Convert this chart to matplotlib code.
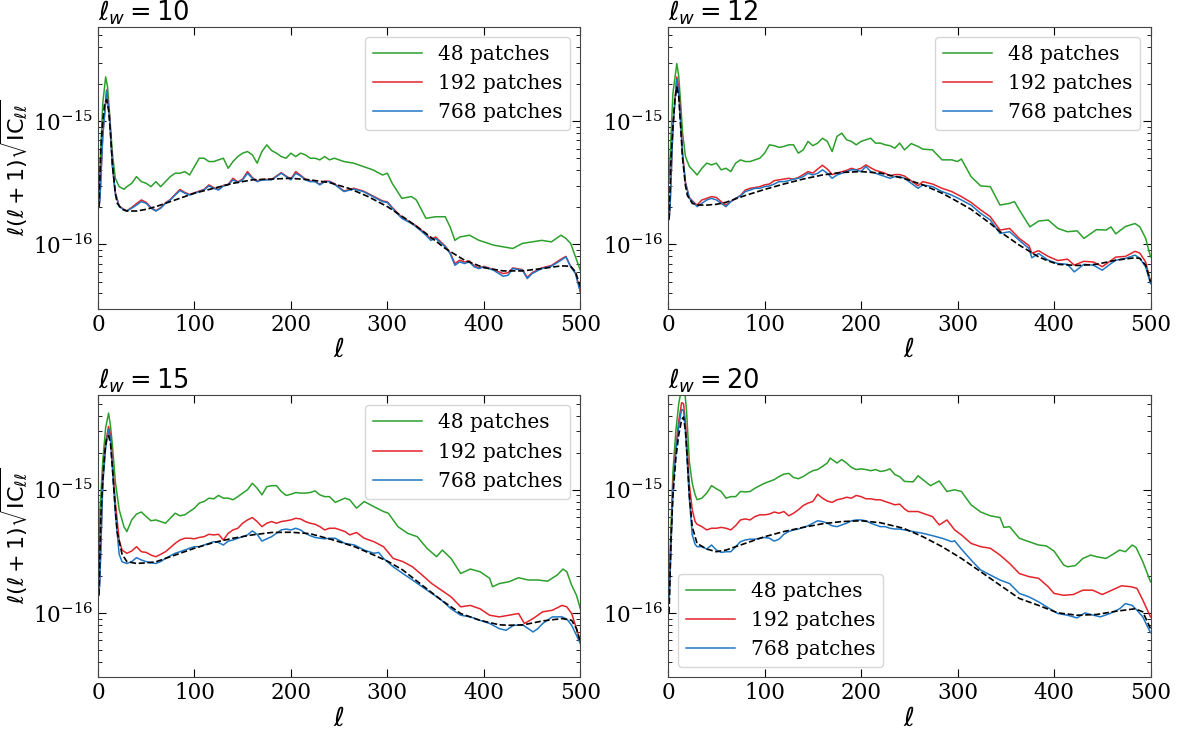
import matplotlib
matplotlib.use("Agg")
import matplotlib.pyplot as plt
from matplotlib.ticker import FixedLocator
import numpy as np

# values are in units of 1e-16
UNIT = 1e-16

# ---- l_w = 10 ----
green_10 = [(1, 2.3), (2, 4.0), (5, 14), (8, 23), (10, 19), (12, 11.7), (15, 5.5), (18, 3.45), (22, 2.95), (27, 2.81),
            (30, 2.95), (35, 3.14), (40, 3.56), (45, 3.24), (50, 3.14), (55, 2.95), (60, 3.24), (65, 2.95), (70, 3.24),
            (75, 3.56), (80, 3.79), (85, 3.79), (90, 3.91), (95, 3.67), (100, 4.30), (105, 5.02), (110, 5.02), (115, 4.72),
            (120, 4.72), (125, 4.87), (130, 5.02), (135, 4.16), (140, 4.72), (145, 5.18), (150, 5.52), (155, 5.69),
            (160, 5.35), (165, 4.58), (170, 5.69), (175, 6.45), (180, 5.8), (185, 5.52), (190, 5.18), (195, 5.02),
            (200, 5.52), (205, 5.18), (210, 5.52), (215, 5.35), (220, 5.02), (225, 5.02), (230, 4.87), (235, 5.18),
            (240, 4.87), (245, 5.02), (255, 4.72), (265, 4.58), (275, 4.30), (285, 4.04), (295, 3.67), (300, 3.79),
            (305, 3.14), (315, 2.37), (325, 2.45), (330, 2.30), (340, 1.63), (350, 1.68), (360, 1.68), (365, 1.39),
            (370, 1.08), (375, 1.15), (385, 1.19), (395, 1.08), (400, 1.05), (410, 0.988), (420, 0.957), (430, 0.928),
            (440, 1.02), (450, 1.05), (460, 1.08), (470, 1.05), (480, 1.19), (485, 1.12), (490, 1.02), (495, 0.793),
            (500, 0.618)]
red_10 = [(1, 2.0), (2, 2.3), (5, 7.8), (9, 18), (12, 11.3), (15, 4.4), (18, 2.65), (22, 2.05), (27, 1.93),
          (30, 1.88), (35, 2.0), (40, 2.15), (45, 2.30), (50, 2.2), (55, 2.0), (60, 1.88), (65, 1.99), (70, 2.18),
          (75, 2.32), (80, 2.55), (85, 2.80), (90, 2.65), (95, 2.55), (100, 2.63), (105, 2.72), (110, 2.80), (115, 3.05),
          (120, 2.9), (125, 2.8), (130, 3.02), (135, 3.08), (140, 3.45), (145, 3.22), (150, 3.4), (155, 3.91),
          (160, 3.5), (165, 3.28), (170, 3.38), (175, 3.38), (180, 3.38), (185, 3.6), (190, 3.83), (195, 3.6),
          (200, 3.4), (205, 3.91), (210, 3.65), (215, 3.4), (220, 3.28), (225, 3.26), (230, 3.08), (235, 3.28),
          (240, 3.26), (245, 3.12), (255, 2.72), (265, 2.86), (275, 2.72), (285, 2.48), (295, 2.26), (300, 2.22),
          (305, 2.0), (315, 1.66), (325, 1.5), (330, 1.42), (340, 1.22), (345, 1.1), (350, 1.15), (360, 0.97),
          (365, 0.86), (370, 0.70), (375, 0.745), (380, 0.72), (385, 0.735), (390, 0.67), (395, 0.645), (400, 0.665),
          (410, 0.625), (420, 0.58), (425, 0.59), (430, 0.645), (440, 0.625), (445, 0.54), (450, 0.59), (460, 0.645),
          (470, 0.675), (480, 0.76), (485, 0.80), (490, 0.665), (495, 0.585), (500, 0.415)]
blue_10 = [(1, 2.0), (2, 2.3), (5, 7.55), (9, 17.6), (12, 11.0), (15, 4.30), (18, 2.61), (22, 2.03), (27, 1.91),
           (30, 1.87), (35, 1.97), (40, 2.09), (45, 2.23), (50, 2.16), (55, 1.97), (60, 1.87), (65, 1.97), (70, 2.16),
           (75, 2.30), (80, 2.52), (85, 2.74), (90, 2.61), (95, 2.52), (100, 2.61), (105, 2.69), (110, 2.77), (115, 2.99),
           (120, 2.86), (125, 2.77), (130, 2.99), (135, 3.05), (140, 3.35), (145, 3.18), (150, 3.35), (155, 3.79),
           (160, 3.45), (165, 3.24), (170, 3.35), (175, 3.35), (180, 3.35), (185, 3.56), (190, 3.79), (195, 3.56),
           (200, 3.35), (205, 3.79), (210, 3.6), (215, 3.35), (220, 3.24), (225, 3.24), (230, 3.05), (235, 3.24),
           (240, 3.24), (245, 3.09), (255, 2.69), (265, 2.82), (275, 2.69), (285, 2.45), (295, 2.23), (300, 2.19),
           (305, 1.97), (315, 1.63), (325, 1.48), (330, 1.39), (340, 1.19), (345, 1.08), (350, 1.12), (360, 0.957),
           (365, 0.845), (370, 0.678), (375, 0.722), (380, 0.700), (385, 0.722), (390, 0.658), (395, 0.637),
           (400, 0.658), (410, 0.618), (420, 0.552), (425, 0.562), (430, 0.637), (440, 0.618), (445, 0.528),
           (450, 0.580), (460, 0.637), (470, 0.666), (480, 0.745), (485, 0.793), (490, 0.658), (495, 0.580),
           (500, 0.411)]
theory_10 = [(1, 2.0), (3, 6.0), (5, 10), (7, 14), (9, 15), (11, 12.4), (13, 8.0), (15, 4.5), (18, 2.6), (20, 2.16),
             (25, 1.93), (30, 1.87), (40, 1.87), (50, 1.93), (60, 2.03), (70, 2.16), (80, 2.30), (100, 2.61),
             (120, 2.86), (140, 3.14), (160, 3.35), (180, 3.40), (200, 3.45), (220, 3.35), (240, 3.18), (260, 2.86),
             (280, 2.45), (300, 2.03), (320, 1.60), (340, 1.23), (360, 0.928), (380, 0.745), (400, 0.648),
             (420, 0.610), (440, 0.610), (460, 0.637), (480, 0.67), (490, 0.666), (495, 0.60), (500, 0.452)]

# ---- l_w = 12 ----
green_12 = [(1, 3.5), (2, 4.9), (5, 17), (9, 29.5), (11, 23.3), (13, 14.1), (15, 8.0), (18, 5.18), (22, 4.3), (27, 3.91),
            (30, 3.67), (35, 4.16), (40, 4.58), (45, 4.43), (50, 4.58), (55, 4.04), (60, 4.16), (65, 3.91), (70, 4.58),
            (75, 4.87), (80, 4.72), (85, 4.72), (90, 4.87), (95, 5.02), (100, 5.52), (105, 6.45), (110, 6.35),
            (115, 6.15), (120, 6.26), (125, 6.45), (130, 6.45), (135, 5.52), (140, 5.87), (145, 6.88), (150, 6.35),
            (155, 6.66), (160, 7.3), (165, 6.88), (170, 5.69), (175, 7.55), (180, 8.03), (185, 7.09), (190, 6.88),
            (195, 6.45), (200, 6.88), (205, 7.09), (210, 7.3), (215, 6.66), (220, 6.66), (225, 6.45), (230, 6.35),
            (235, 6.06), (240, 6.66), (245, 5.87), (252, 6.6), (259, 6.26), (264, 5.95), (274, 5.87), (284, 4.87),
            (294, 4.87), (300, 4.72), (304, 4.95), (314, 3.56), (324, 2.99), (334, 2.95), (344, 2.09), (354, 2.16),
            (359, 2.23), (364, 1.91), (375, 1.39), (384, 1.55), (394, 1.58), (404, 1.35), (414, 1.27), (424, 1.29),
            (431, 1.12), (444, 1.32), (454, 1.31), (459, 1.39), (464, 1.22), (474, 1.40), (484, 1.48), (489, 1.39),
            (495, 1.12), (500, 0.793)]
red_12 = [(1, 1.6), (2, 2.03), (5, 9.1), (9, 23), (11, 19), (13, 10.5), (15, 5.5), (18, 3.2), (22, 2.4), (27, 2.19),
          (30, 2.09), (35, 2.30), (40, 2.37), (45, 2.45), (50, 2.41), (55, 2.23), (60, 2.09), (65, 2.23), (70, 2.37),
          (75, 2.5), (80, 2.77), (85, 2.86), (90, 2.9), (95, 2.95), (100, 3.05), (105, 3.1), (110, 3.3), (115, 3.35),
          (120, 3.4), (125, 3.45), (130, 3.39), (135, 3.5), (140, 3.7), (145, 3.91), (150, 3.8), (155, 4.1), (160, 4.4),
          (165, 4.1), (170, 3.7), (175, 3.8), (180, 3.9), (185, 4.0), (190, 4.16), (195, 4.04), (200, 4.16),
          (205, 4.43), (210, 4.2), (215, 4.0), (220, 3.9), (225, 3.79), (230, 3.6), (235, 3.7), (240, 3.7), (245, 3.6),
          (259, 3.0), (264, 3.24), (274, 3.1), (284, 2.86), (294, 2.69), (304, 2.45), (314, 2.2), (324, 1.91),
          (334, 1.68), (344, 1.31), (354, 1.35), (364, 1.12), (374, 0.98), (377, 0.85), (384, 0.89), (394, 0.80),
          (404, 0.74), (414, 0.76), (421, 0.68), (431, 0.73), (441, 0.72), (450, 0.66), (459, 0.74), (464, 0.79),
          (474, 0.80), (484, 0.88), (489, 0.85), (495, 0.72), (500, 0.50)]
blue_12 = [(1, 1.6), (2, 2.03), (5, 9.1), (9, 21.9), (11, 17), (13, 9.69), (15, 5.18), (18, 3.14), (22, 2.37), (27, 2.16),
           (30, 2.03), (35, 2.16), (40, 2.30), (45, 2.37), (50, 2.30), (55, 2.16), (60, 2.03), (65, 2.23), (70, 2.37),
           (75, 2.48), (80, 2.69), (85, 2.77), (90, 2.86), (95, 2.86), (100, 2.95), (105, 2.99), (110, 3.1),
           (115, 3.24), (120, 3.24), (125, 3.30), (130, 3.39), (135, 3.45), (140, 3.56), (145, 3.79), (150, 3.67),
           (155, 3.79), (160, 4.04), (165, 3.79), (170, 3.45), (175, 3.67), (180, 3.79), (185, 3.91), (190, 4.04),
           (195, 4.04), (200, 3.91), (205, 4.30), (210, 3.91), (215, 3.79), (220, 3.67), (225, 3.56), (230, 3.45),
           (235, 3.56), (240, 3.56), (245, 3.45), (259, 2.86), (264, 3.05), (274, 2.95), (284, 2.69), (294, 2.52),
           (304, 2.30), (314, 2.09), (324, 1.79), (334, 1.58), (344, 1.23), (354, 1.27), (364, 1.08), (374, 0.928),
           (377, 0.78), (384, 0.845), (394, 0.745), (404, 0.70), (414, 0.69), (421, 0.599), (431, 0.69), (441, 0.678),
           (450, 0.618), (459, 0.70), (464, 0.745), (474, 0.77), (484, 0.82), (489, 0.77), (495, 0.658), (500, 0.481)]
theory_12 = [(1, 1.6), (3, 5), (5, 9), (7, 15), (9, 19), (11, 16), (13, 9), (15, 5.0), (18, 3.0), (20, 2.5), (25, 2.16),
             (30, 2.09), (40, 2.09), (50, 2.12), (60, 2.2), (70, 2.35), (80, 2.5), (100, 2.8), (120, 3.1), (140, 3.4),
             (160, 3.67), (180, 3.85), (200, 3.91), (220, 3.8), (244, 3.45), (264, 3.05), (284, 2.61), (300, 2.23),
             (314, 1.93), (334, 1.48), (344, 1.27), (364, 0.988), (384, 0.793), (394, 0.735), (404, 0.69),
             (424, 0.675), (444, 0.69), (464, 0.745), (484, 0.78), (489, 0.77), (495, 0.678), (500, 0.497)]

# ---- l_w = 15 ----
green_15 = [(1, 1.4), (2, 6.6), (5, 17), (8, 32), (11, 42), (13, 33), (15, 23), (18, 11.7), (22, 6.9), (27, 5.0),
            (30, 4.58), (35, 5.69), (40, 6.35), (45, 6.6), (50, 6.06), (55, 5.6), (60, 5.69), (65, 5.52), (70, 5.35),
            (75, 5.87), (80, 6.45), (85, 6.15), (90, 6.26), (95, 6.66), (100, 7.09), (105, 7.8), (110, 8.03),
            (115, 8.55), (120, 8.45), (125, 9.0), (130, 8.55), (135, 8.55), (140, 8.3), (145, 8.8), (150, 9.4),
            (155, 10.0), (160, 11.3), (165, 10.3), (170, 9.1), (175, 10.6), (180, 10.8), (185, 10.8), (190, 9.69),
            (195, 9.0), (200, 9.2), (205, 9.5), (210, 9.4), (215, 9.4), (220, 9.5), (225, 9.8), (230, 9.1), (235, 8.8),
            (240, 8.8), (246, 7.9), (256, 8.55), (261, 8.3), (268, 7.09), (276, 8.03), (286, 7.3), (296, 6.66),
            (301, 6.45), (311, 5.02), (321, 4.43), (331, 4.16), (341, 3.35), (351, 2.86), (357, 3.24), (366, 2.77),
            (376, 2.09), (386, 2.27), (396, 2.16), (406, 1.91), (409, 1.63), (416, 1.73), (426, 1.79), (436, 1.93),
            (446, 1.85), (456, 1.85), (466, 1.81), (476, 2.03), (482, 2.27), (486, 2.16), (491, 1.68), (496, 1.39),
            (500, 1.08)]
red_15 = [(1, 1.4), (2, 2.0), (5, 12), (8, 24), (11, 32.7), (13, 28), (15, 17), (18, 8.0), (22, 3.9), (25, 3.24),
          (30, 3.05), (35, 3.18), (40, 3.45), (45, 3.14), (50, 3.10), (55, 2.95), (60, 2.86), (65, 2.99), (70, 3.14),
          (75, 3.39), (80, 3.67), (85, 3.91), (90, 4.04), (95, 4.04), (100, 4.0), (105, 4.1), (110, 4.16), (115, 4.35),
          (120, 4.30), (125, 4.35), (130, 3.91), (135, 4.43), (140, 4.72), (145, 4.87), (150, 5.35), (155, 5.69),
          (160, 5.95), (165, 5.52), (170, 5.02), (175, 5.35), (180, 5.52), (185, 5.35), (190, 5.52), (195, 5.6),
          (200, 5.69), (205, 5.87), (210, 5.8), (215, 5.52), (220, 5.35), (225, 5.25), (230, 5.02), (235, 4.72),
          (240, 4.87), (246, 4.87), (256, 4.58), (261, 4.30), (268, 4.5), (276, 4.04), (286, 3.79), (296, 3.45),
          (306, 2.77), (316, 2.61), (326, 2.37), (336, 2.03), (346, 1.73), (356, 1.53), (366, 1.35), (376, 1.12),
          (386, 1.15), (396, 1.08), (406, 0.957), (416, 0.928), (426, 0.957), (436, 0.988), (442, 0.82), (451, 0.899),
          (461, 1.02), (471, 1.05), (481, 1.15), (486, 1.12), (491, 0.988), (496, 0.745), (500, 0.58)]
blue_15 = [(1, 1.4), (2, 1.8), (5, 11), (8, 22), (11, 31), (13, 26), (15, 15), (18, 6.5), (22, 3.0), (25, 2.6),
           (30, 2.52), (35, 2.61), (40, 2.81), (45, 2.69), (50, 2.61), (55, 2.55), (60, 2.52), (65, 2.61), (70, 2.77),
           (75, 2.91), (80, 3.05), (85, 3.14), (90, 3.24), (95, 3.35), (100, 3.45), (105, 3.45), (110, 3.56),
           (115, 3.67), (120, 3.79), (125, 3.73), (130, 3.56), (135, 3.83), (140, 3.91), (145, 4.04), (150, 4.16),
           (155, 4.30), (160, 4.63), (165, 4.35), (170, 3.83), (175, 4.0), (180, 4.16), (185, 4.43), (190, 4.72),
           (195, 4.8), (200, 4.72), (205, 4.87), (210, 4.72), (215, 4.43), (220, 4.24), (225, 4.1), (230, 4.04),
           (235, 4.0), (240, 4.04), (246, 4.04), (256, 3.67), (266, 3.56), (276, 3.24), (286, 3.05), (291, 3.1),
           (296, 2.77), (306, 2.37), (316, 2.09), (326, 1.85), (336, 1.63), (346, 1.44), (356, 1.27), (366, 1.08),
           (376, 0.957), (386, 0.928), (396, 0.87), (406, 0.82), (416, 0.745), (423, 0.722), (431, 0.793),
           (441, 0.793), (451, 0.70), (456, 0.745), (461, 0.82), (471, 0.928), (481, 0.928), (486, 0.89),
           (491, 0.793), (496, 0.658), (500, 0.562)]
theory_15 = [(1, 1.4), (3, 6), (5, 12), (7, 20), (9, 26), (11, 27.5), (13, 24), (15, 15), (18, 7), (20, 4.5), (25, 3.0),
             (30, 2.61), (40, 2.52), (50, 2.55), (60, 2.6), (70, 2.77), (80, 2.95), (100, 3.35), (120, 3.73),
             (140, 4.04), (160, 4.3), (180, 4.5), (200, 4.52), (220, 4.4), (246, 3.87), (266, 3.45), (286, 2.95),
             (301, 2.61), (316, 2.23), (336, 1.68), (356, 1.27), (376, 0.988), (396, 0.87), (416, 0.80), (426, 0.793),
             (441, 0.80), (461, 0.86), (481, 0.899), (491, 0.87), (496, 0.745), (500, 0.58)]

# ---- l_w = 20 ----
green_20 = [(1, 1.3), (2, 3.0), (5, 14), (8, 30), (11, 50), (14, 68), (17, 66), (19, 45), (22, 17), (25, 11.3),
            (28, 9.1), (30, 8.3), (35, 8.55), (40, 9.4), (45, 10.8), (50, 10.2), (55, 9.69), (60, 8.55), (65, 8.8),
            (70, 8.8), (75, 9.69), (80, 9.6), (85, 9.69), (90, 10.3), (95, 10.8), (100, 11.3), (105, 11.7),
            (110, 12.1), (115, 12.8), (120, 13.4), (125, 13.6), (130, 12.6), (135, 12.3), (140, 12.8), (145, 13.6),
            (150, 14.3), (155, 14.6), (160, 15.5), (165, 16.5), (168, 18.1), (175, 16.5), (180, 17.6), (185, 16.5),
            (190, 15.2), (195, 14.6), (200, 14.8), (205, 14.6), (210, 14.3), (215, 14.6), (220, 14.1), (225, 14.3),
            (230, 14.8), (235, 13.3), (240, 12.8), (245, 11.7), (254, 11.6), (259, 13.0), (264, 12.1), (272, 10.8),
            (281, 11.8), (289, 9.69), (297, 10.0), (304, 9.69), (314, 7.55), (324, 6.6), (334, 6.15), (344, 5.95),
            (348, 4.95), (354, 5.02), (364, 4.04), (374, 3.79), (384, 3.56), (392, 3.5), (400, 3.18), (410, 2.45),
            (414, 2.37), (422, 2.42), (430, 2.77), (438, 2.95), (444, 2.86), (454, 2.77), (461, 2.99), (468, 3.24),
            (474, 3.14), (481, 3.56), (485, 3.4), (492, 2.61), (500, 1.79)]
red_20 = [(1, 1.3), (5, 11), (8, 22), (11, 36), (14, 51), (16, 50), (18, 35), (20, 20), (22, 11), (25, 6.88),
          (28, 5.52), (30, 5.25), (35, 5.02), (40, 4.72), (45, 4.87), (50, 4.87), (55, 4.95), (60, 4.87), (65, 4.72),
          (70, 5.12), (75, 5.69), (80, 5.8), (85, 5.69), (90, 6.06), (95, 6.26), (100, 6.26), (105, 6.35), (110, 6.6),
          (115, 6.45), (120, 6.66), (125, 6.15), (130, 6.45), (135, 6.88), (140, 7.45), (145, 7.8), (150, 8.03),
          (155, 9.2), (160, 8.55), (165, 8.1), (170, 7.9), (175, 8.3), (180, 8.45), (185, 8.7), (190, 8.55),
          (195, 9.0), (200, 8.8), (205, 8.45), (210, 8.45), (215, 8.3), (220, 8.3), (225, 8.03), (230, 7.8),
          (235, 7.55), (240, 7.65), (245, 7.0), (249, 6.66), (259, 6.66), (264, 6.45), (274, 6.06), (281, 5.18),
          (289, 5.69), (297, 4.72), (304, 4.30), (314, 3.67), (324, 3.45), (334, 3.35), (344, 2.95), (354, 2.52),
          (364, 2.09), (374, 1.97), (384, 1.91), (394, 1.63), (400, 1.44), (410, 1.39), (420, 1.41), (430, 1.53),
          (440, 1.53), (450, 1.41), (460, 1.53), (470, 1.66), (480, 1.63), (486, 1.58), (492, 1.27), (500, 0.928)]
blue_20 = [(1, 1.2), (5, 10), (8, 20), (11, 33), (14, 45), (16, 44), (18, 30), (20, 16), (22, 8.5), (25, 4.3),
           (28, 3.6), (30, 3.45), (35, 3.45), (40, 3.3), (45, 3.56), (50, 3.24), (55, 3.1), (60, 3.14), (65, 3.14),
           (70, 3.45), (75, 3.79), (80, 3.91), (85, 3.97), (90, 3.97), (95, 4.04), (100, 4.1), (105, 4.04), (110, 3.83),
           (115, 3.97), (120, 4.35), (125, 4.58), (130, 4.72), (135, 4.8), (140, 4.95), (145, 5.1), (150, 5.35),
           (155, 5.6), (160, 5.52), (165, 5.35), (170, 5.1), (175, 5.02), (180, 5.18), (185, 5.35), (190, 5.6),
           (195, 5.69), (200, 5.69), (205, 5.6), (210, 5.35), (215, 5.18), (220, 5.02), (225, 5.02), (230, 4.87),
           (235, 4.8), (240, 4.8), (245, 4.72), (254, 4.58), (264, 4.43), (274, 4.24), (284, 4.04), (294, 3.79),
           (297, 3.85), (304, 3.3), (314, 2.69), (324, 2.23), (334, 2.03), (344, 1.85), (354, 1.73), (364, 1.44),
           (374, 1.35), (384, 1.23), (394, 1.10), (404, 0.988), (414, 0.957), (424, 0.91), (432, 1.0), (438, 0.97),
           (448, 0.928), (458, 0.988), (468, 1.08), (474, 1.19), (481, 1.15), (486, 1.05), (492, 0.928), (500, 0.69)]
theory_20 = [(1, 1.0), (3, 4), (5, 9), (8, 18), (11, 28), (14, 37), (16, 39), (18, 30), (20, 17), (22, 9), (25, 5.0),
             (30, 3.67), (40, 3.3), (50, 3.14), (60, 3.24), (70, 3.45), (80, 3.67), (100, 4.16), (120, 4.58),
             (140, 4.95), (160, 5.3), (180, 5.52), (200, 5.6), (220, 5.4), (244, 4.87), (264, 4.16), (284, 3.45),
             (304, 2.77), (324, 2.16), (344, 1.68), (364, 1.31), (384, 1.15), (404, 1.0), (424, 0.957), (444, 0.97),
             (464, 1.03), (484, 1.08), (492, 1.02), (500, 0.745)]

lw_values = [10, 12, 15, 20]
panels = [(green_10, red_10, blue_10, theory_10),
          (green_12, red_12, blue_12, theory_12),
          (green_15, red_15, blue_15, theory_15),
          (green_20, red_20, blue_20, theory_20)]
labels = ['48 patches', '192 patches', '768 patches']
colors = ['#2ca02c', '#e3242b', '#1f77c4']
legend_locs = ['upper right', 'upper right', 'upper right', 'lower left']
y_major = [1e-16, 1e-15]
y_minor = [k * 1e-17 for k in range(3, 10)] + [k * 1e-16 for k in range(2, 10)] + [k * 1e-15 for k in range(2, 6)]

plt.rcParams['font.family'] = 'serif'
plt.rcParams['font.serif'] = ['DejaVu Serif']
plt.rcParams['mathtext.fontset'] = 'dejavusans'
plt.rcParams['axes.edgecolor'] = '#444444'

fig, axes = plt.subplots(2, 2, figsize=(11.8, 7.29), dpi=100)
fig.subplots_adjust(left=0.083, right=0.975, top=0.963, bottom=0.071, hspace=0.307, wspace=0.182)

for i, ax in enumerate(axes.flat):
    series = panels[i]
    for j in range(3):
        l, v = zip(*series[j])
        ax.plot(l, np.array(v) * UNIT, color=colors[j], lw=1.1, label=labels[j])
    l, v = zip(*series[3])
    ax.plot(l, np.array(v) * UNIT, 'k--', lw=1.2)

    ax.set_yscale('log')
    ax.set_xlim(0, 500)
    ax.set_ylim(3.0e-17, 5.85e-15)
    ax.yaxis.set_major_locator(FixedLocator(y_major))
    ax.yaxis.set_minor_locator(FixedLocator(y_minor))
    ax.set_xticks([0, 100, 200, 300, 400, 500])
    ax.tick_params(which='both', direction='in', top=True, right=True, labelsize=15.5)
    ax.tick_params(which='major', length=6)
    ax.tick_params(which='minor', length=3)
    ax.set_xlabel(r'$\ell$', fontsize=19, labelpad=1)
    if i % 2 == 0:
        ax.set_ylabel(r'$\ell(\ell+1)\sqrt{\mathrm{IC}_{\ell\ell}}$', fontsize=16, labelpad=2)
    ax.set_title(r'$\ell_w = %d$' % lw_values[i], loc='left', fontsize=18.5, pad=2)
    ax.legend(loc=legend_locs[i], fontsize=14.5, handlelength=2.4, handletextpad=0.8)

fig.savefig('out.png', dpi=100)
